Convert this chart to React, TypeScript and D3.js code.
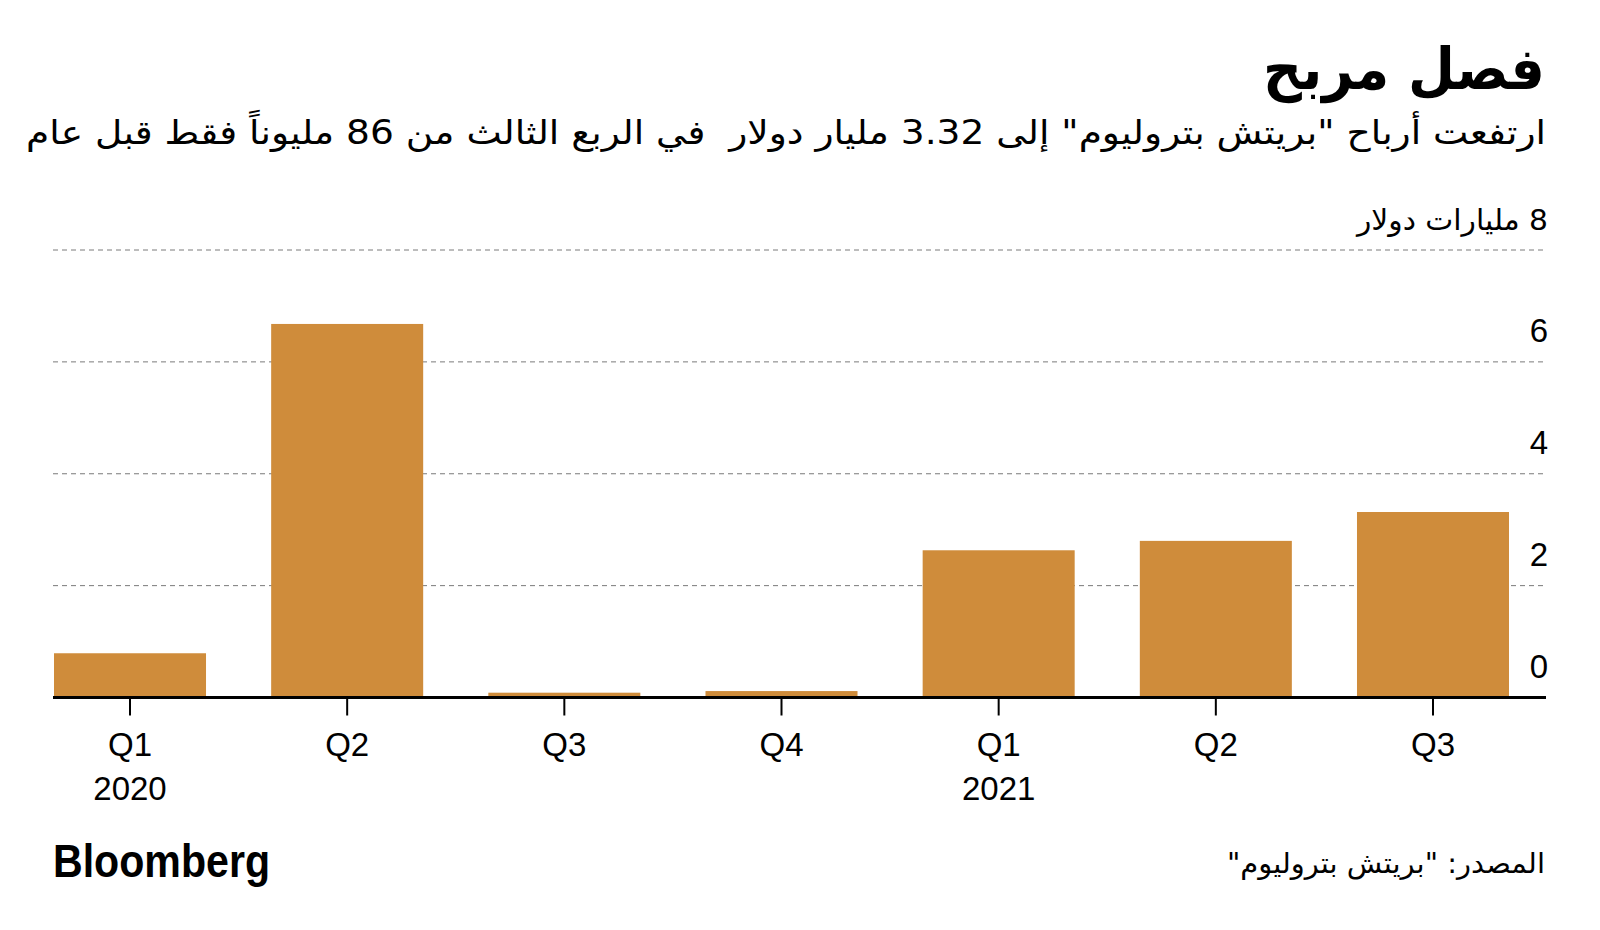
import { scaleBand, scaleLinear } from "d3"

const quarters = ["Q1", "Q2", "Q3", "Q4", "Q1", "Q2", "Q3"]
const years = ["2020", "", "", "", "2021", "", ""]
const profits = [0.791, 6.678, 0.086, 0.115, 2.632, 2.8, 3.316]
const yTicks = [0, 2, 4, 6, 8]

const title = "فصل مربح"
const subtitle =
  "ارتفعت أرباح \"بريتش بتروليوم\" إلى 3.32 مليار دولار  في الربع الثالث من 86 مليوناً فقط قبل عام"
const unitLabel = "8 مليارات دولار"
const source = "المصدر: \"بريتش بتروليوم\""

const W = 1600
const H = 930
const left = 53
const right = 1547
const latin = "'Liberation Sans', Arial, sans-serif"
const arabic = "'DejaVu Sans', sans-serif"

export default function App() {
  const x = scaleBand<number>()
    .domain(profits.map((_, i) => i))
    .range([54, 1509])
    .paddingInner(0.3)
    .paddingOuter(0)
  const y = scaleLinear().domain([0, 8]).range([697.5, 250])

  return (
    <svg
      width={W}
      height={H}
      style={{ position: "absolute", left: 0, top: 0, background: "#fff" }}
    >
      {/* titles */}
      <text
        x={1545}
        y={89}
        textAnchor="start"
        style={{ direction: "rtl" }}
        fontFamily={arabic}
        fontWeight="bold"
        fontSize={58}
        textLength={282}
        lengthAdjust="spacingAndGlyphs"
        fill="#000"
      >
        {title}
      </text>
      <text
        x={1546}
        y={144}
        textAnchor="start"
        style={{ direction: "rtl", whiteSpace: "pre" }}
        fontFamily={arabic}
        fontSize={33}
        textLength={1520}
        lengthAdjust="spacingAndGlyphs"
        fill="#000"
      >
        {subtitle}
      </text>

      {/* grid lines */}
      {yTicks.slice(1).map((t) => (
        <line
          key={t}
          x1={left}
          x2={right}
          y1={y(t)}
          y2={y(t)}
          stroke="#7a7a7a"
          strokeWidth={1}
          strokeDasharray="5,4"
        />
      ))}

      {/* y labels */}
      {yTicks.map((t) =>
        t === 8 ? (
          <text
            key={t}
            x={1548}
            y={y(t) - 20}
            textAnchor="start"
            style={{ direction: "rtl" }}
            fontFamily={arabic}
            fontSize={29}
            textLength={191}
            lengthAdjust="spacingAndGlyphs"
            fill="#000"
          >
            {unitLabel}
          </text>
        ) : (
          <text
            key={t}
            x={1548}
            y={y(t) - 20}
            textAnchor="end"
            fontFamily={latin}
            fontSize={33}
            fill="#000"
          >
            {t}
          </text>
        )
      )}

      {/* bars */}
      {profits.map((v, i) => (
        <rect
          key={i}
          x={x(i)}
          y={y(v)}
          width={x.bandwidth()}
          height={y(0) - y(v)}
          fill="#cf8c3b"
        />
      ))}

      {/* baseline and ticks */}
      <line x1={left} x2={1546} y1={y(0)} y2={y(0)} stroke="#000" strokeWidth={3} />
      {quarters.map((q, i) => {
        const cx = (x(i) ?? 0) + x.bandwidth() / 2
        return (
          <g key={i}>
            <line x1={cx} x2={cx} y1={y(0)} y2={y(0) + 18} stroke="#000" strokeWidth={2} />
            <text x={cx} y={756} textAnchor="middle" fontFamily={latin} fontSize={33} fill="#000">
              {q}
            </text>
            {years[i] && (
              <text x={cx} y={800} textAnchor="middle" fontFamily={latin} fontSize={33} fill="#000">
                {years[i]}
              </text>
            )}
          </g>
        )
      })}

      {/* footer */}
      <text
        x={53}
        y={877}
        fontFamily={latin}
        fontWeight="bold"
        fontSize={47}
        textLength={217}
        lengthAdjust="spacingAndGlyphs"
        fill="#000"
      >
        Bloomberg
      </text>
      <text
        x={1545}
        y={873}
        textAnchor="start"
        style={{ direction: "rtl" }}
        fontFamily={arabic}
        fontSize={28}
        textLength={318}
        lengthAdjust="spacingAndGlyphs"
        fill="#000"
      >
        {source}
      </text>
    </svg>
  )
}
